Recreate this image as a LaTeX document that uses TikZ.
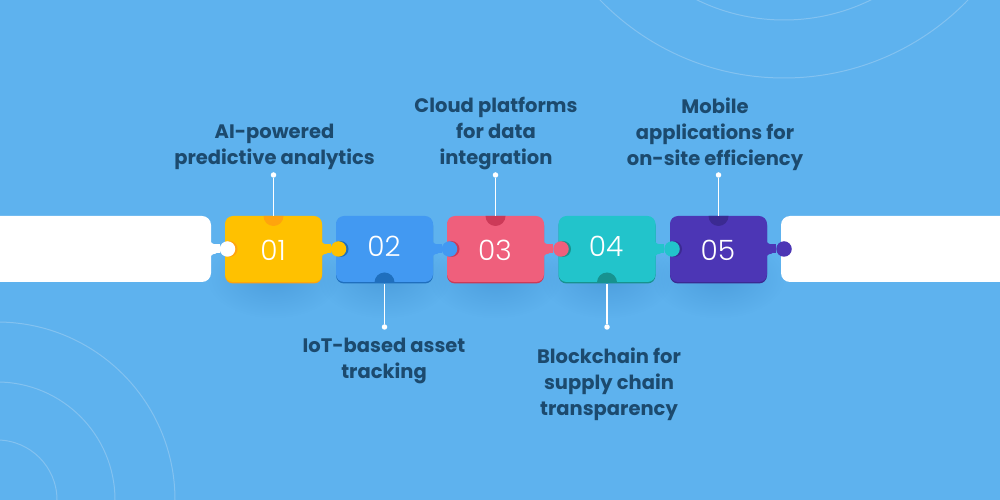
\documentclass[tikz,border=0pt]{standalone}
\usepackage{fontspec}
\setmainfont{Poppins}
\newfontfamily\numfont{Poppins Light}
\usetikzlibrary{shadows,fadings}

\definecolor{skybg}{HTML}{5EB2EE}
\definecolor{arcline}{HTML}{83C2F0}
\definecolor{labelink}{HTML}{1C4A6E}
\definecolor{shade}{HTML}{3F8FD0}

\definecolor{yellowA}{HTML}{FFC100}
\definecolor{yellowB}{HTML}{FFA40D}
\definecolor{blueA}{HTML}{4299F2}
\definecolor{blueB}{HTML}{1F6FBE}
\definecolor{redA}{HTML}{EF5F7C}
\definecolor{redB}{HTML}{CC3A58}
\definecolor{tealA}{HTML}{22C4CB}
\definecolor{tealB}{HTML}{17928F}
\definecolor{purpleA}{HTML}{4C36B5}
\definecolor{purpleB}{HTML}{3B2A92}

\tikzfading[name=softglow, inner color=transparent!0, outer color=transparent!100]

\newcommand{\neckroot}[2]{\fill[#2, shift={(#1.east)}] (-0.5,7) .. controls (1,5.5) and (2.5,4.5) .. (5,4.5) -- (5,-4.5) .. controls (2.5,-4.5) and (1,-5.5) .. (-0.5,-7) -- cycle;}

\tikzset{
    x=1pt, y=1pt,
    puzzle/.style={minimum width=97pt, minimum height=66pt, inner sep=0pt, rounded corners=8pt,
        fill=#1A, general shadow={fill=#1B, shadow yshift=-1.5pt}},
    whitebar/.style={minimum height=66pt, inner sep=0pt, rounded corners=9pt, fill=white},
    knob/.style={circle, minimum size=15.5pt, inner sep=0pt, fill=#1},
    neck/.style={line width=9pt, draw=#1},
    glow/.style={fill=shade, opacity=0.55, path fading=softglow},
    number/.style={text=white, font=\numfont\fontsize{28}{28}\selectfont},
    caption/.style={align=center, text=labelink, font=\bfseries\fontsize{19.5}{26}\selectfont},
    dot/.style={circle, minimum size=5.5pt, inner sep=0pt, fill=white},
    stem/.style={draw=white, line width=1.2pt},
    ring/.style={draw=arcline, line width=1pt}
}

\begin{document}
\begin{tikzpicture}
    \useasboundingbox (0,0) rectangle (1000,500);
    \clip (0,0) rectangle (1000,500);
    \fill[skybg] (0,0) rectangle (1000,500);

    % arcs in the corners
    \draw[ring] (784,678) circle (256);
    \draw[ring] (784,678) circle (198);
    \draw[ring] (-3,0) circle (178);
    \draw[ring] (-3,0) circle (118);
    \draw[ring] (-3,0) circle (60);

    % soft shadows
    \fill[glow] (273.5,222) ellipse (66 and 40);
    \fill[glow] (384.5,222) ellipse (66 and 40);
    \fill[glow] (495.5,222) ellipse (66 and 40);
    \fill[glow] (607,222) ellipse (66 and 40);
    \fill[glow] (718.5,222) ellipse (66 and 40);

    % white ends
    \node[whitebar, minimum width=231pt] (barleft) at (95.5,251) {};
    \node[whitebar, minimum width=239pt] (barright) at (900.5,251) {};

    % pieces
    \node[puzzle=yellow] (block01) at (273.5,251) {};
    \node[puzzle=blue] (block02) at (384.5,251) {};
    \node[puzzle=red] (block03) at (495.5,251) {};
    \node[puzzle=teal] (block04) at (607,251) {};
    \node[puzzle=purple] (block05) at (718.5,251) {};

    % notches
    \fill[yellowB] (263.5,284) arc (180:360:10) -- cycle;
    \fill[blueB] (374.5,217.5) arc (180:0:10) -- cycle;
    \fill[redB] (485.5,284) arc (180:360:10) -- cycle;
    \fill[tealB] (597,217.5) arc (180:0:10) -- cycle;
    \fill[purpleB] (708.5,284) arc (180:360:10) -- cycle;

    % rims behind the knobs
    \fill[yellowB] (229.5,251) circle (8);
    \fill[blueB] (340.5,251) circle (8);
    \fill[redB] (451.5,251) circle (8);
    \fill[tealB] (563,251) circle (8);
    \fill[purpleB] (674,251) circle (8);

    % knobs
    \node[knob=white] (knob01) at (227.5,251) {};
    \node[knob=yellowA] (knob02) at (338.5,251) {};
    \node[knob=blueA] (knob03) at (449.5,251) {};
    \node[knob=redA] (knob04) at (561,251) {};
    \node[knob=tealA] (knob05) at (672,251) {};
    \node[knob=purpleA] (knob06) at (784,251) {};

    \draw[neck=white] (barleft.east) -- (knob01);
    \draw[neck=yellowA] (block01.east) -- (knob02);
    \draw[neck=blueA] (block02.east) -- (knob03);
    \draw[neck=redA] (block03.east) -- (knob04);
    \draw[neck=tealA] (block04.east) -- (knob05);
    \draw[neck=purpleA] (block05.east) -- (knob06);

    % wider at the root of each neck
    \neckroot{barleft}{white}
    \neckroot{block01}{yellowA}
    \neckroot{block02}{blueA}
    \neckroot{block03}{redA}
    \neckroot{block04}{tealA}
    \neckroot{block05}{purpleA}

    % numbers
    \node[number] (num01) at (273,250) {01};
    \node[number] (num02) at (384,254) {02};
    \node[number] (num03) at (495,250) {03};
    \node[number] (num04) at (606,254) {04};
    \node[number] (num05) at (718,250) {05};

    % stems
    \node[dot] (dot01) at (273.5,325) {};
    \node[dot] (dot02) at (384.5,173) {};
    \node[dot] (dot03) at (495.5,325) {};
    \node[dot] (dot04) at (607,173) {};
    \node[dot] (dot05) at (718.5,325) {};
    \draw[stem] (dot01) -- (block01.north);
    \draw[stem] (dot02) -- ([yshift=-2pt]block02.south);
    \draw[stem] (dot03) -- (block03.north);
    \draw[stem] (dot04) -- ([yshift=-2pt]block04.south);
    \draw[stem] (dot05) -- (block05.north);

    % captions
    \node[caption] (text01) at (274.5,353) {AI-powered\\predictive analytics};
    \node[caption] (text02) at (384,139) {IoT-based asset\\tracking};
    \node[caption] (text03) at (496,366) {Cloud platforms\\for data\\integration};
    \node[caption] (text04) at (609,116) {Blockchain for\\supply chain\\transparency};
    \node[caption] (text05) at (715,366) {Mobile\\applications for\\on-site efficiency};
\end{tikzpicture}
\end{document}
